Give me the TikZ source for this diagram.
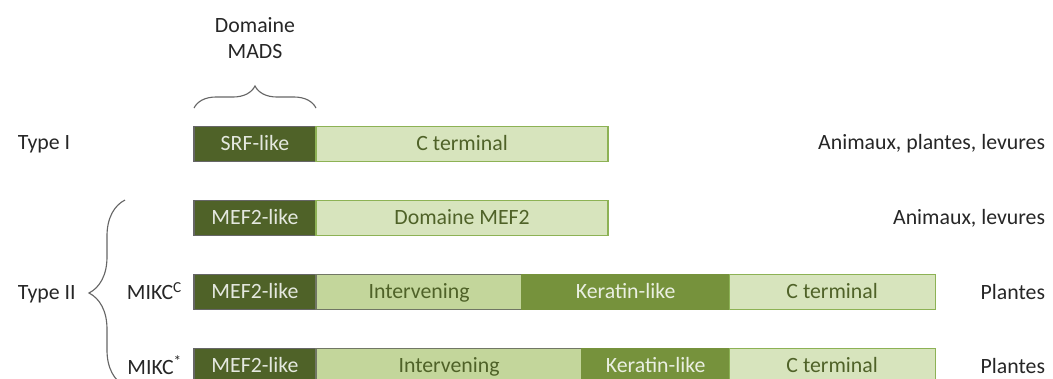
\documentclass[tikz,border=0pt]{standalone}
\usepackage{fontspec}
\setmainfont{Carlito}
\usetikzlibrary{positioning,decorations.pathreplacing}
\definecolor{olivedk}{HTML}{4F6228}
\definecolor{olivemd}{HTML}{76923C}
\definecolor{olivelt}{HTML}{C3D69B}
\definecolor{olivepl}{HTML}{D7E4BD}
\definecolor{olivebd}{HTML}{8DB255}
\definecolor{txtgray}{HTML}{262626}

\begin{document}
\begin{tikzpicture}[x=0.025cm,y=-0.025cm,
    font=\fontsize{15.5}{18.5}\selectfont, text=txtgray,
    seg/.style={anchor=west, minimum height=0.875cm, inner sep=0pt, outer sep=0pt, line width=0.9pt,
      text height=10pt, text depth=1pt},
    mads/.style={seg, fill=olivedk, draw=gray!80!black, text=white!85!olivedk, minimum width=3.05cm},
    interv/.style={seg, fill=olivelt, draw=gray!70!olivedk, text=olivedk},
    kera/.style={seg, fill=olivemd, draw=olivemd, text=white!85!olivemd},
    cterm/.style={seg, fill=olivepl, draw=olivebd, text=olivedk},
    brc/.style={draw=gray!80!black, line width=0.8pt, decorate}]
  \useasboundingbox (0,0) rectangle (1053,378);
  \clip (0,0) rectangle (1053,378);

  % Type I
  \node[mads] (srf) at (194,144) {SRF-like};
  \node[cterm, minimum width=7.3cm, right=0pt of srf] (ct1) {C terminal};

  % Type II
  \node[mads] (mefa) at (194,218) {MEF2-like};
  \node[cterm, minimum width=7.3cm, right=0pt of mefa] (dmef) {Domaine MEF2};

  \node[mads] (mefb) at (194,292) {MEF2-like};
  \node[interv, minimum width=5.15cm, right=0pt of mefb] (intb) {Intervening};
  \node[kera, minimum width=5.175cm, right=0pt of intb] (kerb) {Keratin-like};
  \node[cterm, minimum width=5.15cm, right=0pt of kerb] (ctb) {C terminal};

  \node[mads] (mefc) at (194,366) {MEF2-like};
  \node[interv, minimum width=6.65cm, right=0pt of mefc] (intc) {Intervening};
  \node[kera, minimum width=3.675cm, right=0pt of intc] (kerc) {Keratin-like};
  \node[cterm, minimum width=5.15cm, right=0pt of kerc] (ctc) {C terminal};

  % labels
  \node[align=center] (madslab) at (255,38) {Domaine\\MADS};
  \node[anchor=west] (t1) at (13,144) {Type I};
  \node[anchor=west] (t2) at (13,294) {Type II};
  \node[anchor=east] (mikcc) at (187,291) {MIKC\textsuperscript{C}};
  \node[anchor=east] (mikcs) at (187,365) {MIKC\textsuperscript{*}};
  \node[anchor=east] (sp1) at (1050,144) {Animaux, plantes, levures};
  \node[anchor=east] (sp2) at (1050,218) {Animaux, levures};
  \node[anchor=east] (sp3) at (1050,292) {Plantes};
  \node[anchor=east] (sp4) at (1050,366) {Plantes};

  % braces
  \coordinate (bl) at (194,108);
  \coordinate (br) at (316,108);
  \draw[brc, decoration={brace, amplitude=0.55cm}] (bl) -- (br);
  \coordinate (lt) at (125,200);
  \coordinate (lb) at (125,386);
  \draw[brc, decoration={brace, amplitude=0.9cm}] (lb) -- (lt);
\end{tikzpicture}
\end{document}
